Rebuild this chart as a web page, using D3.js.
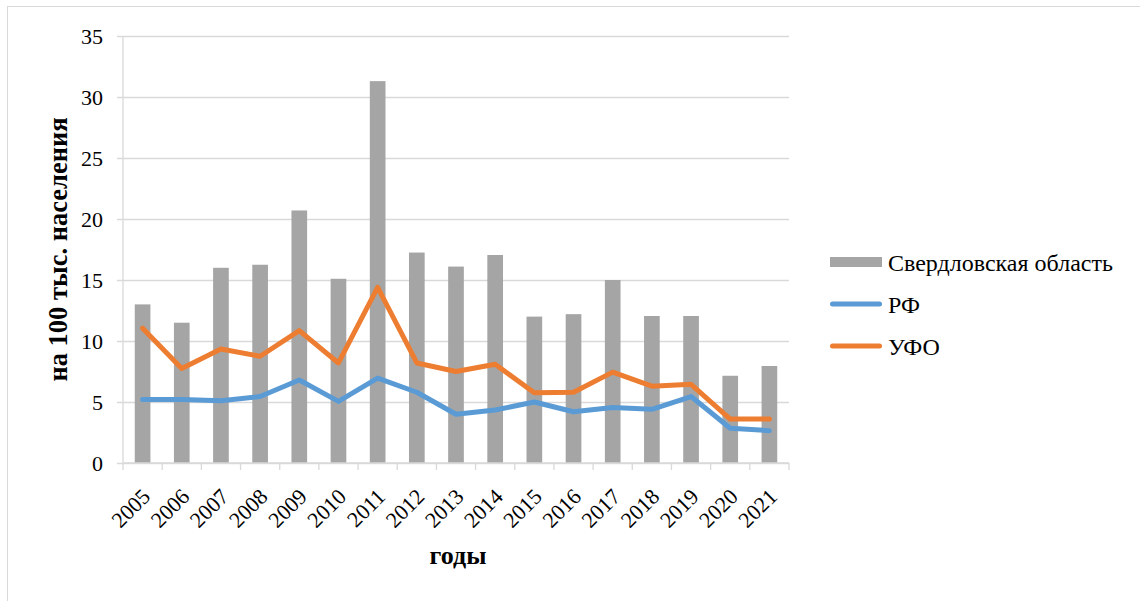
<!DOCTYPE html>
<html lang="ru">
<head>
<meta charset="utf-8">
<script src="https://cdn.jsdelivr.net/npm/d3@7"></script>
<style>
  html, body { margin: 0; padding: 0; background: #fff; }
  svg { display: block; }
  svg text { font-family: "Liberation Serif", "Times New Roman", serif; }
</style>
</head>
<body>
<svg id="chart" width="1140" height="601"></svg>
<script>
// Годы наблюдений
const years = ["2005","2006","2007","2008","2009","2010","2011","2012","2013",
               "2014","2015","2016","2017","2018","2019","2020","2021"];
// Свердловская область, на 100 тыс. населения
const sverdlovsk = [13.0, 11.5, 16.0, 16.25, 20.7, 15.1, 31.3, 17.25, 16.1,
                    17.05, 12.0, 12.2, 15.0, 12.05, 12.05, 7.15, 7.95];
// Российская Федерация
const rf = [5.2, 5.2, 5.1, 5.45, 6.8, 5.05, 6.95, 5.8, 4.0,
            4.35, 5.0, 4.2, 4.55, 4.4, 5.45, 2.85, 2.65];
// Уральский федеральный округ
const ufo = [11.05, 7.75, 9.35, 8.75, 10.85, 8.2, 14.4, 8.2, 7.5,
             8.1, 5.75, 5.8, 7.45, 6.3, 6.45, 3.6, 3.6];
const yTicks = [0, 5, 10, 15, 20, 25, 30, 35];
const seriesNames = ["Свердловская область", "РФ", "УФО"];

const colors = { bar: "#a5a5a5", rf: "#5b9bd5", ufo: "#ed7d31", grid: "#d9d9d9", text: "#000" };
const serif = "'Liberation Serif', 'Times New Roman', serif";

const svg = d3.select("#chart");
const plot = { left: 123, right: 789, top: 36, bottom: 463 };

// Рамка области диаграммы
svg.append("rect")
  .attr("x", 7.5).attr("y", 6.5)
  .attr("width", 1200).attr("height", 700)
  .attr("fill", "none").attr("stroke", "#d9d9d9").attr("stroke-width", 1);

const x = d3.scaleBand().domain(years).range([plot.left, plot.right])
  .paddingInner(0.6).paddingOuter(0.3);
const xStep = d3.scaleBand().domain(years).range([plot.left, plot.right]);
const y = d3.scaleLinear().domain([0, 35]).range([plot.bottom, plot.top]);

// Горизонтальные линии сетки и деления оси Y
const yAxis = d3.axisLeft(y).tickValues(yTicks)
  .tickSize(plot.right - plot.left + 6).tickPadding(14).tickFormat(d3.format("d"));
const gy = svg.append("g")
  .attr("transform", `translate(${plot.right},0)`)
  .call(yAxis)
  .attr("font-family", serif).attr("font-size", 22);
gy.select(".domain").remove();
gy.selectAll(".tick line").attr("stroke", colors.grid).attr("stroke-width", 1.3);
gy.selectAll(".tick text").attr("fill", colors.text);

// Вертикальная линия оси Y
svg.append("line")
  .attr("x1", plot.left).attr("x2", plot.left)
  .attr("y1", plot.top).attr("y2", plot.bottom)
  .attr("stroke", colors.grid).attr("stroke-width", 1.3);

// Столбцы: Свердловская область
svg.append("g").selectAll("rect")
  .data(years.map((yr, i) => ({ yr, v: sverdlovsk[i] })))
  .join("rect")
  .attr("x", d => x(d.yr))
  .attr("width", x.bandwidth())
  .attr("y", d => y(d.v))
  .attr("height", d => y(0) - y(d.v))
  .attr("fill", colors.bar);

// Ось X с делениями между категориями
const gx = svg.append("g").attr("transform", `translate(0,${plot.bottom})`);
gx.append("line")
  .attr("x1", plot.left).attr("x2", plot.right)
  .attr("stroke", colors.grid).attr("stroke-width", 1.3);
const boundaries = years.map(yr => xStep(yr)).concat([plot.right]);
gx.selectAll("line.tick").data(boundaries).join("line")
  .attr("class", "tick")
  .attr("x1", d => d).attr("x2", d => d)
  .attr("y1", 0).attr("y2", 7)
  .attr("stroke", colors.grid).attr("stroke-width", 1.3);
gx.selectAll("text").data(years).join("text")
  .attr("text-anchor", "end")
  .attr("font-size", 22)
  .attr("fill", colors.text)
  .attr("transform", d => `translate(${x(d) + x.bandwidth() / 2 + 9},${35}) rotate(-45)`)
  .text(d => d);

// Линии: РФ и УФО
const line = d3.line()
  .x((d, i) => x(years[i]) + x.bandwidth() / 2)
  .y(d => y(d));
svg.append("path").datum(rf)
  .attr("d", line).attr("fill", "none")
  .attr("stroke", colors.rf).attr("stroke-width", 5)
  .attr("stroke-linejoin", "round").attr("stroke-linecap", "round");
svg.append("path").datum(ufo)
  .attr("d", line).attr("fill", "none")
  .attr("stroke", colors.ufo).attr("stroke-width", 5)
  .attr("stroke-linejoin", "round").attr("stroke-linecap", "round");

// Подписи осей
svg.append("text")
  .attr("transform", `translate(67,${(plot.top + plot.bottom) / 2}) rotate(-90)`)
  .attr("text-anchor", "middle")
  .attr("font-size", 26.5).attr("font-weight", "bold")
  .attr("fill", colors.text)
  .text("на 100 тыс. населения");
svg.append("text")
  .attr("x", (plot.left + plot.right) / 2 + 2).attr("y", 564)
  .attr("text-anchor", "middle")
  .attr("font-size", 26).attr("font-weight", "bold")
  .attr("fill", colors.text)
  .text("годы");

// Легенда
const legend = svg.append("g");
const lx = 830, ly = 262, lgap = 42;
legend.append("rect")
  .attr("x", lx).attr("y", ly - 5).attr("width", 52).attr("height", 10)
  .attr("fill", colors.bar);
[colors.rf, colors.ufo].forEach((c, i) => {
  legend.append("line")
    .attr("x1", lx + 2.5).attr("x2", lx + 49.5)
    .attr("y1", ly + lgap * (i + 1)).attr("y2", ly + lgap * (i + 1))
    .attr("stroke", c).attr("stroke-width", 5).attr("stroke-linecap", "round");
});
seriesNames.forEach((name, i) => {
  legend.append("text")
    .attr("x", lx + 58).attr("y", ly + lgap * i + 9)
    .attr("font-size", 24).attr("fill", colors.text)
    .text(name);
});
</script>
</body>
</html>
